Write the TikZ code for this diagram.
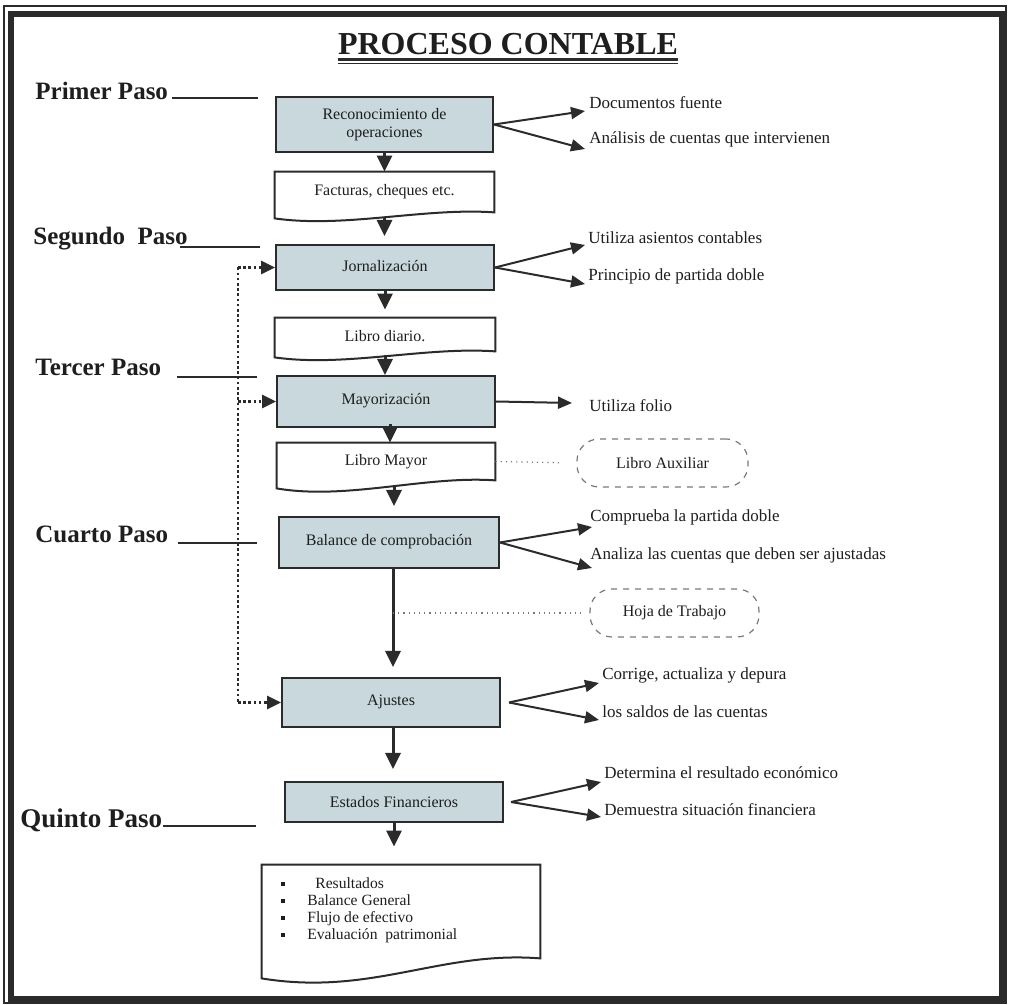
\documentclass[tikz,border=0pt]{standalone}
\usepackage{fontspec}
\setmainfont{Liberation Serif}
\usetikzlibrary{arrows.meta,calc}
\definecolor{ln}{HTML}{2B2B2B}
\definecolor{boxfill}{HTML}{C9D8DD}
\definecolor{txt}{HTML}{1E1E1E}
\definecolor{side}{HTML}{7A7A7A}
\begin{document}
\begin{tikzpicture}[x=0.5pt,y=-0.5pt,
  stepbox/.style={draw=ln, fill=boxfill, line width=1pt, inner sep=0pt, text=txt,
     font=\fontsize{8}{9}\selectfont, align=center},
  docbox/.style={inner sep=0pt, text=txt, font=\fontsize{8}{9}\selectfont},
  docline/.style={draw=ln, line width=1pt, fill=white},
  steplbl/.style={anchor=base west, inner sep=0pt, text=txt, font=\bfseries\fontsize{12.5}{14}\selectfont},
  stepline/.style={draw=ln, line width=1pt},
  note/.style={anchor=west, inner sep=0pt, text=txt, font=\fontsize{8.5}{10}\selectfont},
  flow/.style={draw=ln, line width=1.5pt, -{Triangle[width=7.5pt,length=8pt]}},
  branch/.style={draw=ln, line width=1pt, -{Triangle[width=6pt,length=7pt]}},
  fbline/.style={draw=ln, line width=1.3pt, dash pattern=on 1.3pt off 1.3pt},
  fb/.style={fbline, -{Triangle[width=6.5pt,length=7pt]}},
  sidebox/.style={draw=side, dashed, line width=0.6pt, rounded corners=11pt, inner sep=0pt,
     text=txt, font=\fontsize{8}{9}\selectfont},
  thindot/.style={draw=side, dotted, line width=0.6pt}
]
\useasboundingbox (0,0) rectangle (1009,1005);
\fill[white] (0,0) rectangle (1009,1005);
% frame
\draw[ln, line width=0.6pt] (4,6) rectangle (1006,1003);
\draw[ln, line width=3pt] (11,14) rectangle (1002,999);

% title
\node[anchor=base, inner sep=0pt, text=txt, font=\bfseries\fontsize{16}{18}\selectfont] (title) at (508,55) {PROCESO CONTABLE};
\draw[ln, line width=1.5pt] (title.base west |- 0,60) -- (title.base east |- 0,60);
\draw[ln, line width=0.5pt] (title.base west |- 0,64) -- (title.base east |- 0,64);

% step labels
\node[steplbl] (p1) at (35,100) {Primer Paso};
\node[steplbl] (p2) at (33,245) {Segundo\ \ Paso};
\node[steplbl] (p3) at (35,376) {Tercer Paso};
\node[steplbl] (p4) at (35,543) {Cuarto Paso};
\node[steplbl, font=\bfseries\fontsize{13.5}{15}\selectfont] (p5) at (20,828) {Quinto Paso};
\draw[stepline] (172,98) -- (258,98);
\draw[stepline] (180,247) -- (260,247);
\draw[stepline] (177,377) -- (257,377);
\draw[stepline] (178,543) -- (257,543);
\draw[stepline] (p5.base east |- 0,826) -- (256,826);

% main boxes
\node[stepbox, minimum width=108.5pt, minimum height=27.5pt] (b1) at (384.5,124.5) {Reconocimiento de\\operaciones};
\node[stepbox, minimum width=109pt, minimum height=22.5pt] (b2) at (385,267.5) {\raisebox{1.5pt}{Jornalización}};
\node[stepbox, minimum width=109pt, minimum height=25.5pt] (b3) at (386,401.5) {\raisebox{3pt}{Mayorización}};
\node[stepbox, minimum width=110pt, minimum height=25.5pt] (b4) at (389,542.5) {\raisebox{2.5pt}{Balance de comprobación}};
\node[stepbox, minimum width=109pt, minimum height=24.5pt] (b5) at (391,702.5) {\raisebox{2pt}{Ajustes}};
\node[stepbox, minimum width=109pt, minimum height=20pt] (b6) at (394,802) {Estados Financieros};

% documents
\node[docbox, minimum width=109.5pt, minimum height=20pt] (d1) at (384.5,192) {};
\draw[docline] (d1.north west) -- (d1.north east) -- (d1.south east)
  .. controls +(-70,-5) and +(70,10) .. ([yshift=-3pt]d1.south west) -- cycle;
\node[docbox] at (d1) {Facturas, cheques etc.};

\node[docbox, minimum width=110pt, minimum height=16.5pt] (d2) at (385,334.5) {};
\draw[docline] (d2.north west) -- (d2.north east) -- (d2.south east)
  .. controls +(-70,-5) and +(70,10) .. ([yshift=-3pt]d2.south west) -- cycle;
\node[docbox] at ([yshift=-1pt]d2.center) {Libro diario.};

\node[docbox, minimum width=109pt, minimum height=18.5pt] (d3) at (386,461.5) {};
\draw[docline] (d3.north west) -- (d3.north east) -- (d3.south east)
  .. controls +(-70,-5) and +(70,12) .. ([yshift=-4pt]d3.south west) -- cycle;
\node[docbox] at (d3) {Libro Mayor};

\node[docbox, minimum width=139pt, minimum height=46.5pt] (d7) at (401,911.5) {};
\draw[docline] (d7.north west) -- (d7.north east) -- (d7.south east)
  .. controls +(-100,-8) and +(110,18) .. ([yshift=-10pt]d7.south west) -- cycle;
\node[anchor=west, inner sep=0pt, text=txt, font=\fontsize{7.8}{8.5}\selectfont] (lst) at (281,910.5)
 {\renewcommand\arraystretch{1}\begin{tabular}{@{}l@{\hspace{11pt}}l@{}}
  \raisebox{1.2pt}{\rule{2pt}{2pt}} & \hspace{4pt}Resultados\\
  \raisebox{1.2pt}{\rule{2pt}{2pt}} & Balance General\\
  \raisebox{1.2pt}{\rule{2pt}{2pt}} & Flujo de efectivo\\
  \raisebox{1.2pt}{\rule{2pt}{2pt}} & Evaluación\ \ patrimonial
 \end{tabular}};

% vertical flow arrows
\draw[flow] ([yshift=1pt]b1.south) -- (b1.south |- d1.north);
\draw[flow, shorten >=4pt] ([yshift=-3pt]d1.south) -- (d1.south |- b2.north);
\draw[flow, shorten >=4pt] (b2.south) -- (b2.south |- d2.north);
\draw[flow] ([yshift=-2pt]d2.south) -- (d2.south |- b3.north);
\draw[flow] ([xshift=2pt,yshift=2pt]b3.south) -- ([xshift=2pt]b3.south |- d3.north);
\draw[flow, shorten >=5pt] ([xshift=4pt,yshift=-3pt]d3.south) -- ([xshift=4pt]d3.south |- b4.north);
\draw[flow, shorten >=5pt] ([xshift=2pt]b4.south) -- ([xshift=2pt]b4.south |- b5.north);
\draw[flow, shorten >=6pt] ([xshift=1pt]b5.south) -- ([xshift=1pt]b5.south |- b6.north);
\draw[flow, shorten >=9pt] (b6.south) -- (b6.south |- d7.north);

% feedback dotted connector
\coordinate (fx) at (238,268);
\draw[fbline] (fx |- b2.west) -- (fx |- b5.west);
\draw[fb] (fx |- b2.west) -- (b2.west);
\draw[fb] (fx |- b3.west) -- (b3.west);
\draw[fb] (fx |- b5.west) -- (b5.west);

% side notes
\node[note] (t1a) at (589,103) {Documentos fuente};
\node[note] (t1b) at (589,139) {Análisis de cuentas que intervienen};
\node[note] (t2a) at (588,238) {Utiliza asientos contables};
\node[note] (t2b) at (588,276) {Principio de partida doble};
\node[note] (t3) at (589,406) {Utiliza folio};
\node[note] (t4a) at (590,517) {Comprueba la partida doble};
\node[note] (t4b) at (590,555) {Analiza las cuentas que deben ser ajustadas};
\node[note] (t5a) at (602,675) {Corrige, actualiza y depura};
\node[note] (t5b) at (602,712) {los saldos de las cuentas};
\node[note] (t6a) at (604,773) {Determina el resultado económico};
\node[note] (t6b) at (604,810) {Demuestra situación financiera};

\coordinate (a1a) at (585,111); \coordinate (a1b) at (585,149);
\coordinate (a2a) at (585,245); \coordinate (a2b) at (585,284);
\coordinate (a3) at (572,403);
\coordinate (a4a) at (592,527); \coordinate (a4b) at (592,568);
\coordinate (a5a) at (599,683); \coordinate (a5b) at (599,720);
\coordinate (a6a) at (601,782); \coordinate (a6b) at (601,817);

\draw[branch] (b1.east) -- (a1a);
\draw[branch] (b1.east) -- (a1b);
\draw[branch] (b2.east) -- (a2a);
\draw[branch] (b2.east) -- (a2b);
\draw[branch] (b3.east) -- (a3);
\draw[branch] (b4.east) -- (a4a);
\draw[branch] (b4.east) -- (a4b);
\draw[branch] ([xshift=4pt]b5.east) -- (a5a);
\draw[branch] ([xshift=4pt]b5.east) -- (a5b);
\draw[branch] ([xshift=3.5pt]b6.east) -- (a6a);
\draw[branch] ([xshift=3.5pt]b6.east) -- (a6b);

% dashed side boxes
\node[sidebox, minimum width=85.5pt, minimum height=24pt] (laux) at (662.5,463) {Libro Auxiliar};
\node[sidebox, minimum width=84.5pt, minimum height=24pt] (hoja) at (674.5,613) {Hoja de Trabajo};
\draw[thindot, shorten >=7pt] (d3.east) -- (laux.west);
\draw[thindot, shorten >=4pt] ([xshift=2pt]b4.south |- hoja.west) -- (hoja.west);
\end{tikzpicture}
\end{document}
